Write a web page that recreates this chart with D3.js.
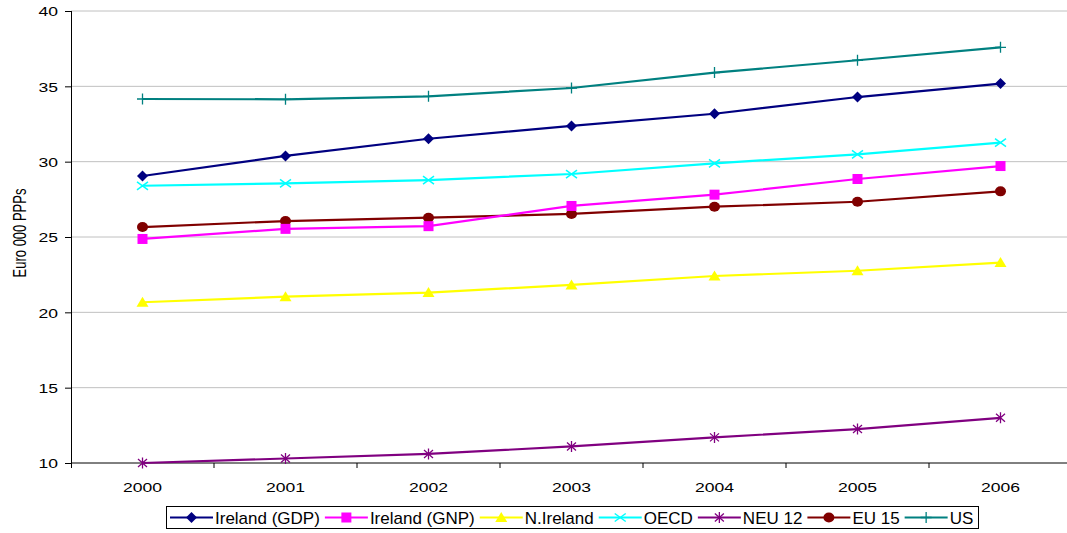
<!DOCTYPE html>
<html>
<head>
<meta charset="utf-8">
<script src="https://cdn.jsdelivr.net/npm/d3@7"></script>
<style>
  html, body { margin: 0; padding: 0; background: #fff; }
  svg { display: block; font-family: "Liberation Sans", Arial, sans-serif; }
</style>
</head>
<body>
<svg id="chart" width="1067" height="533"></svg>
<script>
// GDP per capita, euro 000 PPPs
const years = ["2000", "2001", "2002", "2003", "2004", "2005", "2006"];
const irelandGDP = [29.05, 30.38, 31.52, 32.37, 33.18, 34.29, 35.18];
const irelandGNP = [24.87, 25.54, 25.72, 27.06, 27.81, 28.85, 29.71];
const nIreland   = [20.67, 21.04, 21.31, 21.82, 22.41, 22.76, 23.30];
const oecd       = [28.40, 28.56, 28.78, 29.18, 29.89, 30.49, 31.26];
const neu12      = [10.00, 10.30, 10.60, 11.10, 11.70, 12.25, 13.00];
const eu15       = [25.66, 26.06, 26.28, 26.53, 27.01, 27.34, 28.03];
const us         = [34.16, 34.14, 34.34, 34.89, 35.91, 36.73, 37.59];
const yTicks = [10, 15, 20, 25, 30, 35, 40];

const series = [
  { name: "Ireland (GDP)", values: irelandGDP, color: "#000080", marker: "diamond" },
  { name: "Ireland (GNP)", values: irelandGNP, color: "#ff00ff", marker: "square" },
  { name: "N.Ireland",     values: nIreland,   color: "#ffff00", marker: "triangle" },
  { name: "OECD",          values: oecd,       color: "#00ffff", marker: "x" },
  { name: "NEU 12",        values: neu12,      color: "#800080", marker: "star" },
  { name: "EU 15",         values: eu15,       color: "#800000", marker: "circle" },
  { name: "US",            values: us,         color: "#008080", marker: "plus" }
];

const svg = d3.select("#chart");
const plotLeft = 71, plotRight = 1072, plotTop = 11, plotBottom = 463;
const stretch = 1.35;   // axis text is drawn wide

const x = d3.scaleBand().domain(years).range([plotLeft, plotRight]);
const y = d3.scaleLinear().domain([10, 40]).range([plotBottom, plotTop]);
const cx = d => x(d) + x.bandwidth() / 2;

// horizontal gridlines
svg.append("g").selectAll("line").data(yTicks.filter(t => t > 10)).join("line")
  .attr("x1", plotLeft).attr("x2", 1067)
  .attr("y1", d => y(d)).attr("y2", d => y(d))
  .attr("stroke", "#c0c0c0").attr("stroke-width", 1);

// y axis
const yAxis = svg.append("g").attr("transform", `translate(${plotLeft},0)`)
  .call(d3.axisLeft(y).tickValues(yTicks).tickSize(6).tickSizeOuter(0));
yAxis.select(".domain").attr("stroke", "#000").attr("d", `M0.5,${plotTop}V${plotBottom + 5}`);
yAxis.selectAll(".tick line").attr("stroke", "#000");
yAxis.selectAll(".tick text").remove();
yAxis.selectAll(".tick").append("text")
  .attr("transform", `translate(-13,0) scale(${stretch},1)`)
  .attr("text-anchor", "end").attr("dy", "0.36em")
  .attr("font-size", 13).attr("fill", "#000")
  .text(d => d);

// x axis: ticks sit between categories
const xAxisG = svg.append("g").attr("transform", `translate(0,${plotBottom})`);
xAxisG.append("line").attr("x1", plotLeft).attr("x2", 1067).attr("stroke", "#000");
xAxisG.selectAll("line.tick").data(years.slice(1)).join("line").attr("class", "tick")
  .attr("x1", d => x(d)).attr("x2", d => x(d)).attr("y1", 0).attr("y2", 5)
  .attr("stroke", "#000");
xAxisG.selectAll("text").data(years).join("text")
  .attr("transform", d => `translate(${cx(d)},29) scale(${stretch},1)`)
  .attr("text-anchor", "middle").attr("font-size", 13).attr("fill", "#000")
  .text(d => d);

// y title
svg.append("text")
  .attr("transform", `translate(26,233) scale(${stretch},1) rotate(-90)`)
  .attr("text-anchor", "middle").attr("font-size", 13).attr("fill", "#000")
  .text("Euro 000 PPPs");

// marker drawing
function drawMarker(g, type, color) {
  switch (type) {
    case "diamond":
      g.append("path").attr("d", "M0,-5.5L5.5,0L0,5.5L-5.5,0Z").attr("fill", color); break;
    case "square":
      g.append("rect").attr("x", -5).attr("y", -5).attr("width", 10).attr("height", 10).attr("fill", color); break;
    case "triangle":
      g.append("path").attr("d", "M0,-5.5L6,4.5L-6,4.5Z").attr("fill", color); break;
    case "circle":
      g.append("ellipse").attr("rx", 5.5).attr("ry", 5).attr("fill", color); break;
    case "x":
      g.append("path").attr("d", "M-5.5,-4L5.5,4M-5.5,4L5.5,-4").attr("stroke", color).attr("stroke-width", 1.5).attr("fill", "none"); break;
    case "star":
      g.append("path").attr("d", "M-4.5,-4L4.5,4M-4.5,4L4.5,-4M0,-5.5L0,5.5").attr("stroke", color).attr("stroke-width", 1.3).attr("fill", "none"); break;
    case "plus":
      g.append("path").attr("d", "M-5.5,0L5.5,0M0,-5.5L0,5.5").attr("stroke", color).attr("stroke-width", 1.3).attr("fill", "none"); break;
  }
}

const line = d3.line().x((d, i) => cx(years[i])).y(d => y(d));

// draw series in reverse so the first series sits on top
series.slice().reverse().forEach(s => {
  const g = svg.append("g");
  g.append("path").datum(s.values).attr("d", line)
    .attr("fill", "none").attr("stroke", s.color).attr("stroke-width", 2.2);
  s.values.forEach((v, i) => {
    const m = g.append("g").attr("transform", `translate(${cx(years[i])},${y(v)})`);
    drawMarker(m, s.marker, s.color);
  });
});

// legend
const legend = svg.append("g");
legend.append("rect").attr("x", 166.5).attr("y", 506.5).attr("width", 812).attr("height", 22)
  .attr("fill", "#fff").attr("stroke", "#000").attr("stroke-width", 1);
const sampleLen = 43;
let lx = 170;
series.forEach(s => {
  const item = legend.append("g").attr("transform", `translate(${lx},517.5)`);
  item.append("line").attr("x1", 0).attr("x2", sampleLen).attr("stroke", s.color).attr("stroke-width", 2.2);
  drawMarker(item.append("g").attr("transform", `translate(${sampleLen / 2},0)`), s.marker, s.color);
  const t = item.append("text").attr("x", sampleLen + 2).attr("y", 6)
    .attr("font-size", 17).attr("fill", "#000").text(s.name);
  lx += sampleLen + 2 + t.node().getComputedTextLength() + 5;
});
</script>
</body>
</html>
